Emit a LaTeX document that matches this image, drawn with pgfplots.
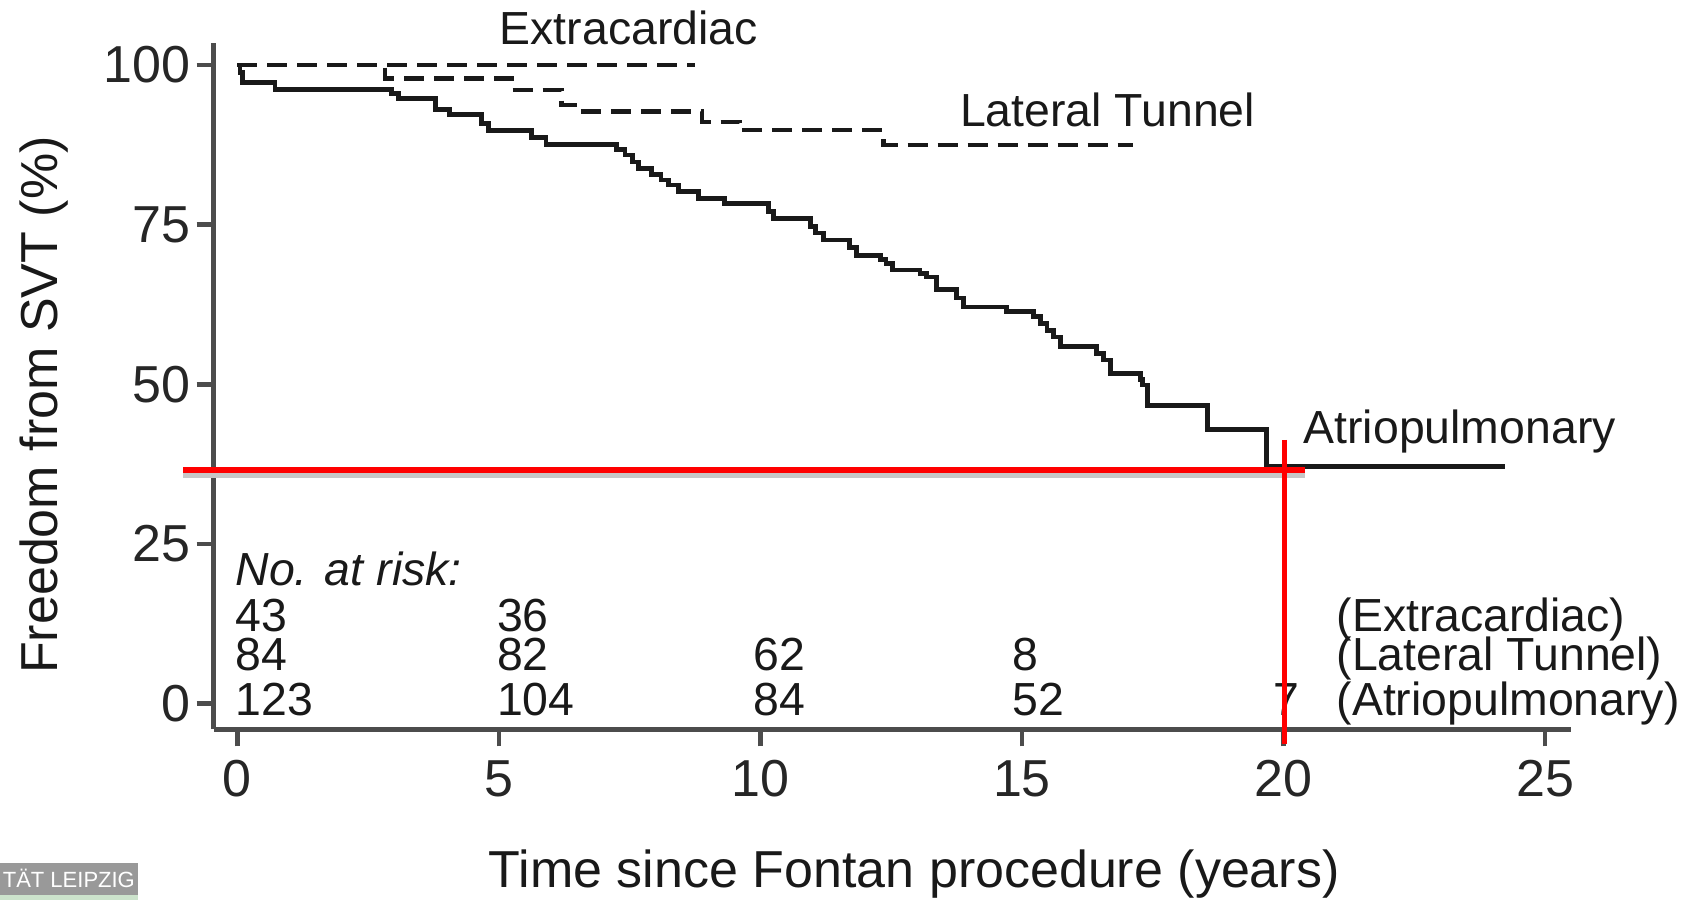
\documentclass[border=0pt]{standalone}
\usepackage{fontspec}
\setmainfont{Liberation Sans}
\usepackage{pgfplots}
\pgfplotsset{compat=1.18}

\newcommand\axfont{\fontsize{13}{15}\selectfont}
\newcommand\riskfont{\fontsize{11.6}{13}\selectfont}
\tikzset{risk/.style={anchor=base west, inner sep=0, font=\riskfont, text=black!90}}

\begin{document}
\begin{tikzpicture}
\begin{axis}[
    scale only axis, width=339.3pt, height=171.6pt,
    xmin=-0.45, xmax=25.5, ymin=-4, ymax=103.5,
    axis lines=left,
    axis line style={-, line width=1.2pt, black!70},
    tick align=outside, major tick length=4.3pt,
    tick style={line width=1.2pt, black!70},
    xtick={0,5,...,25}, ytick={0,25,50,75,100},
    /pgf/number format/assume math mode=true,
    tick label style={font=\axfont, text=black!85},
    xticklabel style={yshift=0pt},
    yticklabel style={xshift=2pt},
    xlabel={Time since Fontan procedure (years)},
    ylabel={Freedom from SVT (\%)},
    xlabel style={font=\axfont, text=black!90, at={(axis description cs:0.516,0)},
                  anchor=center, yshift=-36.2pt},
    ylabel style={font=\axfont, text=black!90,
                  at={([xshift=-42.5pt]axis description cs:0,0.472)}, anchor=center},
    clip=false,
  ]
  % Extracardiac
  \addplot[const plot, black!90, line width=1.1pt, dash pattern=on 5pt off 2.5pt]
    coordinates {(0,100)(8.75,100)};
  % Lateral Tunnel
  \addplot[const plot, black!90, line width=1.1pt, dash pattern=on 5pt off 2.5pt]
    coordinates {(0,100)(2.82,97.9)(5.24,96.1)(6.2,93.7)(6.5,92.7)(8.88,91.1)
                 (9.6,89.8)(12.35,87.5)(17.13,87.5)};
  % Atriopulmonary
  \addplot[const plot, black!90, line width=1.2pt]
    coordinates {(0,100)(0.05,98.8)(0.1,97.3)(0.72,96.2)(2.95,95.5)(3.08,94.8)
                 (3.78,93.0)(4.05,92.2)(4.67,90.9)(4.8,89.8)(5.63,88.6)(5.9,87.5)
                 (7.25,86.8)(7.41,85.9)(7.55,84.8)(7.67,83.8)(7.92,82.8)(8.1,82.0)
                 (8.24,81.2)(8.43,80.2)(8.81,79.1)(9.32,78.3)(10.15,77.1)(10.25,76.0)
                 (10.95,74.7)(11.05,73.7)(11.2,72.6)(11.71,71.4)(11.84,70.2)(12.29,69.5)
                 (12.4,68.9)(12.52,67.9)(13.05,67.3)(13.18,66.8)(13.37,64.8)(13.75,63.5)
                 (13.88,62.1)(14.71,61.4)(15.22,60.6)(15.35,59.5)(15.48,58.4)(15.6,57.4)
                 (15.73,55.9)(16.43,54.8)(16.56,53.8)(16.69,51.7)(17.26,50.8)(17.3,49.9)
                 (17.4,46.7)(18.55,42.9)(19.68,37.1)(24.24,37.1)};

  % curve labels
  \node[risk] at (axis cs:5.0,103.2) {Extracardiac};
  \node[risk] at (axis cs:13.8,90.3) {Lateral Tunnel};
  \node[risk] at (axis cs:20.37,40.8) {Atriopulmonary};

  % numbers at risk
  \node[risk, font=\riskfont\itshape] at (axis cs:-0.05,18.5) {No. at risk:};
  \node[risk] at (axis cs:-0.05,11.25) {43};
  \node[risk] at (axis cs:4.95,11.25) {36};
  \node[risk] at (axis cs:-0.05,5.2) {84};
  \node[risk] at (axis cs:4.95,5.2) {82};
  \node[risk] at (axis cs:9.85,5.2) {62};
  \node[risk] at (axis cs:14.8,5.2) {8};
  \node[risk] at (axis cs:-0.05,-1.9) {123};
  \node[risk] at (axis cs:4.95,-1.9) {104};
  \node[risk] at (axis cs:9.85,-1.9) {84};
  \node[risk] at (axis cs:14.8,-1.9) {52};
  \node[risk] at (axis cs:19.8,-1.9) {7};
  \node[risk] at (axis cs:21.0,11.25) {(Extracardiac)};
  \node[risk] at (axis cs:21.0,5.2) {(Lateral Tunnel)};
  \node[risk] at (axis cs:21.0,-1.9) {(Atriopulmonary)};

  % red annotation lines
  \draw[black!22, line width=1.3pt, yshift=-1.4pt] (axis cs:-1.04,36.6) -- (axis cs:20.42,36.6);
  \draw[red, line width=1.4pt] (axis cs:-1.04,36.6) -- (axis cs:20.42,36.6);
  \draw[red, line width=1.4pt] (axis cs:20.02,41.3) -- (axis cs:20.02,-6.4);

  % corners of the cropped logo and of the page
  \coordinate (logonw) at (axis cs:-4.539,-24.97);
  \coordinate (logose) at (axis cs:-1.9,-29.98);
  \coordinate (logow) at (axis cs:-4.5,-27.4);
  \coordinate (bbsw) at (axis cs:-4.539,-30.76);
  \coordinate (bbne) at (axis cs:27.81,110.18);
\end{axis}
\fill[black!40] (logonw) rectangle (logose);
\fill[green!45!black!20!white] (logose) rectangle (bbsw);
\node[anchor=west, inner sep=0, font=\fontsize{5.5}{6.5}\selectfont, text=white] at (logow) {TÄT LEIPZIG};
\pgfresetboundingbox
\path (bbsw) rectangle (bbne);
\end{tikzpicture}
\end{document}
